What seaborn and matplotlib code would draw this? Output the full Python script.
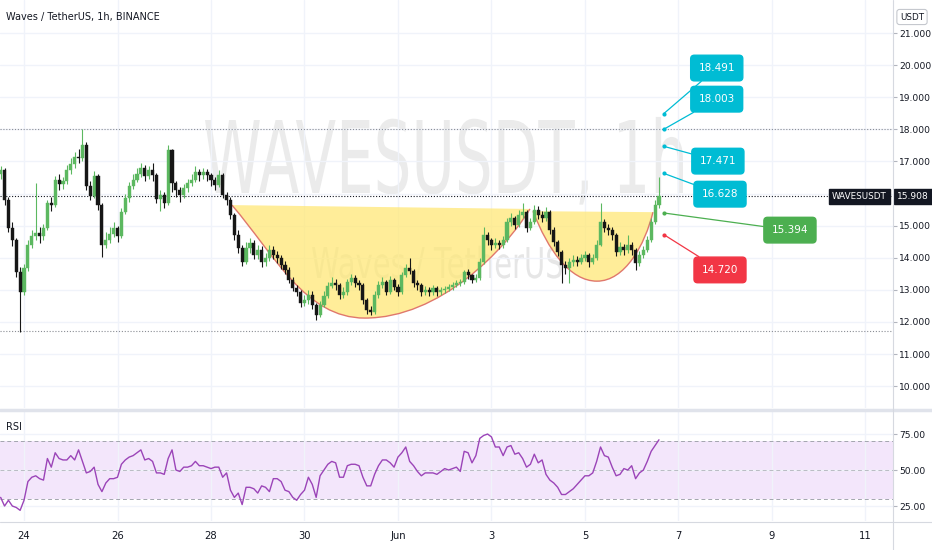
import matplotlib
matplotlib.use("Agg")
import numpy as np
import pandas as pd
import matplotlib.pyplot as plt
import matplotlib.dates as mdates
import matplotlib.transforms as mtransforms
from matplotlib.lines import Line2D
from matplotlib.path import Path
from matplotlib.patches import PathPatch
from matplotlib.textpath import TextPath
from matplotlib.font_manager import FontProperties, fontManager
import seaborn as sns

sns.set_style("white")
installed = {f.name for f in fontManager.ttflist}
FONT = "Liberation Sans Narrow" if "Liberation Sans Narrow" in installed else "DejaVu Sans"
plt.rcParams["font.family"] = [FONT, "DejaVu Sans"]

W, H = 932, 550

# 2h candles, first one at START
START = "2021-05-23 12:00"
FIRST_OPEN = 16.60
closes = [16.73, 15.80, 14.93, 14.55, 13.55, 12.93, 13.68, 14.40, 14.68, 14.77,
          14.68, 14.93, 15.70, 15.64, 16.42, 16.30, 16.38, 16.73, 16.92, 17.14,
          17.11, 17.51, 16.23, 15.92, 16.55, 15.64, 14.40, 14.55, 14.74, 14.93,
          14.68, 15.42, 15.86, 16.23, 16.42, 16.61, 16.79, 16.55, 16.73, 16.58,
          15.83, 15.95, 15.70, 17.35, 16.33, 16.11, 15.95, 16.17, 16.33, 16.42,
          16.67, 16.58, 16.67, 16.58, 16.42, 16.26, 16.58, 15.95, 15.80, 15.33,
          14.71, 14.30, 13.87, 14.30, 14.46, 14.08, 14.24, 13.87, 13.99, 14.24,
          14.08, 13.99, 13.77, 13.62, 13.31, 13.06, 12.93, 12.59, 12.68, 12.84,
          12.53, 12.21, 12.53, 12.81, 13.12, 13.21, 13.15, 12.84, 12.93, 13.24,
          13.37, 13.21, 13.15, 12.68, 12.37, 12.31, 12.84, 13.15, 13.24, 12.93,
          13.31, 13.09, 12.93, 13.46, 13.68, 13.60, 13.21, 13.15, 12.93, 12.99,
          12.93, 13.06, 12.93, 12.99, 13.02, 13.09, 13.15, 13.21, 13.24, 13.55,
          13.46, 13.31, 13.37, 13.87, 14.71, 14.55, 14.40, 14.46, 14.40, 14.55,
          15.11, 15.24, 15.02, 15.33, 15.42, 14.93, 15.11, 15.49, 15.33, 15.24,
          15.42, 14.86, 14.49, 14.18, 13.77, 13.68, 13.87, 13.93, 13.87, 13.99,
          14.08, 13.87, 13.99, 14.40, 15.11, 14.93, 14.86, 14.71, 14.18, 14.33,
          14.24, 14.40, 14.24, 13.83, 14.08, 14.24, 14.55, 15.11, 15.64, 15.908]
highs = [16.85, 16.80, 15.90, 15.10, 14.62, 13.70, 13.80, 14.55, 14.85, 16.33,
         14.95, 15.05, 15.80, 15.90, 16.55, 16.60, 16.50, 16.90, 17.10, 17.30,
         17.40, 18.00, 17.60, 16.40, 16.70, 16.62, 15.70, 14.80, 14.95, 15.10,
         15.00, 15.55, 16.00, 16.35, 16.60, 16.80, 16.95, 16.90, 16.85, 16.95,
         16.65, 16.10, 16.05, 17.51, 17.40, 16.40, 16.20, 16.30, 16.45, 16.60,
         16.85, 16.78, 16.80, 16.75, 16.65, 16.50, 16.72, 16.65, 16.05, 15.90,
         15.40, 14.85, 14.40, 14.50, 14.62, 14.55, 14.40, 14.35, 14.15, 14.40,
         14.35, 14.20, 14.10, 13.90, 13.70, 13.40, 13.15, 13.00, 12.85, 13.00,
         12.95, 12.60, 12.65, 12.95, 13.25, 13.40, 13.35, 13.22, 13.10, 13.35,
         13.50, 13.45, 13.30, 13.20, 12.75, 12.50, 12.95, 13.28, 13.40, 13.30,
         13.42, 13.38, 13.18, 13.55, 13.80, 13.99, 13.65, 13.30, 13.20, 13.12,
         13.08, 13.15, 13.12, 13.10, 13.12, 13.18, 13.25, 13.30, 13.35, 13.62,
         13.65, 13.50, 13.50, 14.00, 14.96, 14.80, 14.62, 14.60, 14.55, 14.68,
         15.25, 15.40, 15.30, 15.50, 15.70, 15.50, 15.25, 15.65, 15.60, 15.45,
         15.58, 15.48, 14.95, 14.55, 14.25, 13.90, 14.00, 14.08, 14.05, 14.12,
         14.22, 14.15, 14.12, 14.55, 15.70, 15.20, 15.05, 14.95, 14.78, 14.50,
         14.42, 14.70, 14.48, 14.30, 14.20, 14.35, 14.68, 15.25, 15.80, 16.51]
lows = [16.45, 15.65, 14.80, 14.35, 13.40, 11.70, 12.85, 13.60, 14.30, 14.55,
        14.45, 14.55, 14.85, 15.45, 15.58, 16.10, 16.15, 16.30, 16.60, 16.80,
        16.95, 17.00, 16.10, 15.80, 15.85, 15.50, 14.02, 14.30, 14.45, 14.65,
        14.50, 14.60, 15.35, 15.75, 16.15, 16.35, 16.50, 16.40, 16.45, 16.40,
        15.70, 15.45, 15.55, 15.65, 16.05, 15.90, 15.75, 15.85, 16.05, 16.25,
        16.35, 16.40, 16.45, 16.40, 16.25, 16.10, 16.20, 15.85, 15.65, 15.20,
        14.55, 14.15, 13.75, 13.80, 14.15, 13.95, 13.95, 13.72, 13.75, 13.90,
        13.95, 13.85, 13.65, 13.50, 13.20, 12.95, 12.80, 12.45, 12.50, 12.55,
        12.40, 12.06, 12.15, 12.45, 12.75, 13.05, 13.00, 12.70, 12.75, 12.85,
        13.15, 13.10, 13.00, 12.55, 12.25, 12.22, 12.25, 12.75, 13.05, 12.85,
        12.88, 12.98, 12.82, 12.88, 13.40, 13.50, 13.10, 13.00, 12.80, 12.85,
        12.82, 12.85, 12.80, 12.85, 12.90, 12.95, 13.00, 13.08, 13.12, 13.18,
        13.35, 13.20, 13.25, 13.30, 13.80, 14.40, 14.25, 14.30, 14.28, 14.30,
        14.48, 15.00, 14.90, 14.95, 15.25, 14.80, 14.85, 15.05, 15.20, 15.10,
        15.15, 14.75, 14.35, 14.05, 13.21, 13.50, 13.20, 13.75, 13.75, 13.80,
        13.90, 13.70, 13.80, 13.92, 14.35, 14.80, 14.72, 14.55, 14.05, 14.10,
        14.10, 14.15, 14.10, 13.62, 13.75, 14.00, 14.18, 14.48, 15.05, 15.55]
rsi = [31, 25, 29, 25, 24, 22, 29, 42, 45, 46,
       44, 43, 58, 52, 62, 58, 57, 57, 60, 57,
       64, 56, 48, 49, 52, 40, 35, 41, 44, 44,
       45, 54, 57, 59, 60, 62, 64, 57, 58, 56,
       48, 48, 47, 58, 64, 50, 49, 52, 52, 53,
       56, 53, 53, 52, 51, 52, 52, 45, 48, 36,
       31, 34, 26, 38, 38, 37, 34, 39, 38, 35,
       44, 44, 42, 36, 35, 31, 29, 33, 36, 45,
       40, 31, 46, 50, 54, 56, 55, 45, 45, 53,
       54, 54, 53, 45, 39, 39, 47, 53, 57, 57,
       55, 52, 59, 62, 66, 56, 53, 49, 46, 48,
       48, 48, 47, 49, 51, 50, 51, 52, 49, 63,
       62, 55, 60, 72, 74, 75, 73, 66, 66, 60,
       66, 67, 61, 62, 58, 52, 54, 61, 55, 57,
       47, 43, 41, 38, 33, 33, 35, 37, 40, 43,
       46, 46, 48, 56, 66, 60, 59, 52, 46, 47,
       51, 50, 53, 44, 48, 50, 56, 63, 67, 71]

LAST_PRICE = 15.908
RESIST = 18.0
SUPPORT = 11.72

targets = [18.491, 18.003, 17.471, 16.628, 15.394, 14.720]
target_colors = ["#00bcd4", "#00bcd4", "#00bcd4", "#00bcd4", "#4caf50", "#f23645"]
TARGET_TIME = "2021-06-06 16:30"
# where each label box sits (time, price)
target_boxes = [("2021-06-07 19:40", 19.91), ("2021-06-07 19:40", 18.94),
                ("2021-06-07 20:15", 17.01), ("2021-06-07 21:20", 15.98),
                ("2021-06-09 09:15", 14.86), ("2021-06-07 21:20", 13.62)]

tick_dates = ["2021-05-24", "2021-05-26", "2021-05-28", "2021-05-30", "2021-06-01",
              "2021-06-03", "2021-06-05", "2021-06-07", "2021-06-09", "2021-06-11"]
tick_labels = ["24", "26", "28", "30", "Jun", "3", "5", "7", "9", "11"]
price_ticks = list(range(10, 22))
rsi_ticks = [25, 50, 75]

# cup and handle outlines: start, two bezier controls, bottom, two controls, end
cup = [("2021-05-28 10:45", 15.64), ("2021-05-29 08:50", 14.08), ("2021-05-30 00:15", 12.12),
       ("2021-05-31 07:00", 12.12), ("2021-06-01 21:30", 12.12), ("2021-06-03 06:55", 14.24),
       ("2021-06-03 19:45", 15.52)]
handle = [("2021-06-03 21:20", 15.45), ("2021-06-04 05:00", 14.24), ("2021-06-04 16:20", 13.27),
          ("2021-06-05 06:10", 13.27), ("2021-06-05 20:30", 13.27), ("2021-06-06 06:50", 14.40),
          ("2021-06-06 10:55", 15.42)]

UP = "#5cb860"
DOWN = "#161616"
GRID = "#f0f3fa"
TEXT = "#131722"
BORDER = "#d6d9e0"


def num(t):
    return mdates.date2num(pd.Timestamp(t))


def draw_cup(ax, pts):
    v = [(num(t), p) for t, p in pts]
    codes = [Path.MOVETO] + [Path.CURVE4] * 6
    fill = Path(v + [v[0], v[0]], codes + [Path.LINETO, Path.CLOSEPOLY])
    ax.add_patch(PathPatch(fill, fc="#ffe877", ec="none", alpha=0.75, zorder=1))
    ax.add_patch(PathPatch(Path(v, codes), fc="none", ec="#e0786c", lw=1, zorder=2))


def watermark(ax, fig, text, left, right, base, cap, color):
    prop = FontProperties(family=FONT)
    tp = TextPath((0, 0), text, size=1, prop=prop)
    ext = tp.get_extents()
    capu = TextPath((0, 0), "H", size=1, prop=prop).get_extents().height
    sx = (right - left) / ext.width
    sy = cap / capu
    tr = (mtransforms.Affine2D().translate(-ext.x0, 0).scale(sx / W, sy / H)
          .translate(left / W, 1 - base / H) + fig.transFigure)
    ax.add_patch(PathPatch(tp, transform=tr, fc=color, ec="none", zorder=0.5))


fig = plt.figure(figsize=(W / 100, H / 100), dpi=100)
ax = fig.add_axes([0, 1 - 408 / H, 893 / W, 408 / H])
axr = fig.add_axes([0, 29 / H, 893 / W, 110 / H])

t = pd.date_range(START, periods=len(closes), freq="2h")
x = mdates.date2num(t)
c = np.array(closes)
o = np.array([FIRST_OPEN] + closes[:-1])
hi = np.array(highs)
lo = np.array(lows)
up = c >= o
bw = 0.8 / 12

watermark(ax, fig, "WAVESUSDT, 1h", 205, 683, 193, 73, "#ebebeb")
watermark(ax, fig, "Waves / TetherUS", 312, 562, 278, 31, "#e6e6e6")
draw_cup(ax, cup)
draw_cup(ax, handle)

for mask, col in [(up, UP), (~up, DOWN)]:
    ax.vlines(x[mask], lo[mask], hi[mask], color=col, lw=0.8, zorder=3)
    ax.bar(x[mask], np.abs(c - o)[mask], bottom=np.minimum(o, c)[mask], width=bw,
           color=col, edgecolor=col, lw=0.3, zorder=4)

ax.axhline(RESIST, color="#8a8d94", ls=(0, (1, 1.6)), lw=0.8, zorder=2)
ax.axhline(SUPPORT, color="#8a8d94", ls=(0, (1, 1.6)), lw=0.8, zorder=2)
ax.axhline(LAST_PRICE, color=TEXT, ls=(0, (1, 1.6)), lw=0.8, zorder=2)

tx = num(TARGET_TIME)
for v, col, (bt, bp) in zip(targets, target_colors, target_boxes):
    ax.annotate(f"{v:.3f}", xy=(tx, v), xytext=(num(bt), bp), ha="center", va="center",
                color="white", fontsize=7.5, zorder=7,
                bbox=dict(boxstyle="round,pad=0.75,rounding_size=0.35", fc=col, ec=col),
                arrowprops=dict(arrowstyle="-", color=col, lw=0.9, shrinkA=0, shrinkB=0))
    ax.scatter([tx], [v], s=9, color=col, zorder=8, linewidths=0)

# rsi panel
axr.axhspan(30, 70, color="#f3e6fb", zorder=0, lw=0)
for lvl, col in [(70, "#a3a6ae"), (50, "#b9bcc3"), (30, "#a3a6ae")]:
    axr.axhline(lvl, color=col, ls=(0, (4, 3)), lw=0.7, zorder=1)
sns.lineplot(x=x, y=rsi, ax=axr, color="#9b44b8", lw=1, zorder=3)

ticks = [num(d) for d in tick_dates]
xl = (num("2021-05-23 11:40"), num("2021-06-11 14:10"))
for a in (ax, axr):
    a.set_xlim(*xl)
    a.set_xticks(ticks)
    a.grid(True, color=GRID, lw=1)
    a.set_axisbelow(True)
    a.yaxis.tick_right()
    a.tick_params(axis="y", length=3, color="#b2b5be", labelsize=6.6, labelcolor=TEXT, pad=1.5)
    a.tick_params(axis="x", length=0, labelsize=7.2, labelcolor=TEXT, pad=7)
    for s in a.spines.values():
        s.set_visible(False)
    a.set_xlabel("")
    a.set_ylabel("")

ax.set_ylim(9.318, 22.03)
ax.set_yticks(price_ticks)
# the 16.000 label sits under the last-price tag, as on the original scale
ax.set_yticklabels(["" if p == 16 else f"{p:.3f}" for p in price_ticks])
ax.set_xticklabels([])
axr.set_ylim(14.6, 91.0)
axr.set_yticks(rsi_ticks)
axr.set_yticklabels([f"{r:.2f}" for r in rsi_ticks])
axr.set_xticklabels(tick_labels)

# price tags on the right scale
yt = ax.get_yaxis_transform()
ax.text(0.993, LAST_PRICE, "WAVESUSDT", transform=yt, ha="right", va="center", color="white",
        fontsize=6.3, zorder=9, bbox=dict(boxstyle="square,pad=0.35", fc=TEXT, ec=TEXT))
ax.text(1.0045, LAST_PRICE, f"{LAST_PRICE:.3f}", transform=yt, ha="left", va="center",
        color="white", fontsize=6.6, zorder=9, clip_on=False,
        bbox=dict(boxstyle="square,pad=0.3", fc=TEXT, ec=TEXT))

fig.text(6 / W, 1 - 17 / H, "Waves / TetherUS, 1h, BINANCE", fontsize=7, color=TEXT, va="center")
fig.text(6 / W, 1 - 427 / H, "RSI", fontsize=7, color=TEXT, va="center")
fig.text(912 / W, 1 - 17 / H, "USDT", fontsize=6.3, color=TEXT, ha="center", va="center",
         bbox=dict(boxstyle="round,pad=0.35,rounding_size=0.3", fc="white", ec="#c5c8ce", lw=0.8))

fig.add_artist(Line2D([0, 1], [1 - 409.5 / H] * 2, color="#e0e3eb", lw=2.5))
fig.add_artist(Line2D([0, 1], [1 - 521.5 / H] * 2, color=BORDER, lw=0.8))
fig.add_artist(Line2D([893 / W] * 2, [0, 1], color=BORDER, lw=0.8))

fig.savefig("out.png", dpi=100)
